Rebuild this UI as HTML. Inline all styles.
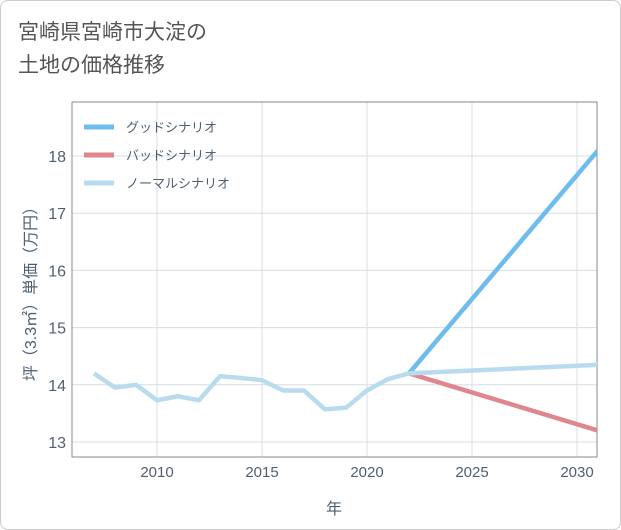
<!DOCTYPE html>
<html><head><meta charset="utf-8">
<style>
body{margin:0;background:#fff;font-family:"Liberation Sans","Noto Sans CJK JP",sans-serif;}
#card{position:absolute;left:0;top:0;width:619px;height:528px;border:1px solid #ccc;border-radius:8px;background:#fff;}
#title{position:absolute;left:18px;top:16px;font-size:21px;line-height:33px;color:#555;}
</style></head><body>
<div id="card"></div>
<div id="title">宮崎県宮崎市大淀の<br>土地の価格推移</div>
<svg id="chart" width="621" height="530" style="position:absolute;left:0;top:0"></svg>
<script>
const years=[2007,2008,2009,2010,2011,2012,2013,2014,2015,2016,2017,2018,2019,2020,2021,2022];
const normalVals=[14.2,13.95,14.0,13.73,13.8,13.73,14.15,14.12,14.08,13.9,13.9,13.57,13.6,13.9,14.1,14.2];
const projYears=[2022,2031];
const goodVals=[14.2,18.1];
const badVals=[14.2,13.2];
const normalProj=[14.2,14.35];
const xTicks=[2010,2015,2020,2025,2030];
const yTicks=[13,14,15,16,17,18];
const legendLabels=["グッドシナリオ","バッドシナリオ","ノーマルシナリオ"];
const colors=["#6cbcf0","#e0868e","#b8dcee"];
const L=72,R=597,T=102,B=457;
const x=v=>157+(v-2010)*21;
const y=v=>442-(v-13)*57.2;
const svg=document.getElementById('chart');
const NS='http://www.w3.org/2000/svg';
function mk(t,a){const e=document.createElementNS(NS,t);for(const k in a)e.setAttribute(k,a[k]);svg.appendChild(e);return e;}
const bg=mk('rect',{x:L,y:T,width:R-L,height:B-T,fill:'#fff',stroke:'#888','stroke-width':1});


xTicks.forEach(v=>{
 const g=mk('line',{x1:x(v),x2:x(v),y1:T,y2:B,stroke:'#d8dde3'});
 
 
 const t=mk('text',{x:x(v),y:B+20,'text-anchor':'middle','font-size':15,fill:'#506070'});
 t.textContent=v;
 
 
});
yTicks.forEach(v=>{
 const g=mk('line',{x1:L,x2:R,y1:y(v),y2:y(v),stroke:'#d8dde3'});
 
 
 const t=mk('text',{x:L-6,y:y(v)+6,'text-anchor':'end','font-size':16,fill:'#506070'});
 t.textContent=v;
 
 
});
mk('rect',{x:L,y:T,width:R-L,height:B-T,fill:'none',stroke:'#888','stroke-width':1});
function line(xs,vs,c,name){
 const p=mk('polyline',{points:xs.map((a,i)=>x(a)+','+y(vs[i])).join(' '),fill:'none',stroke:c,'stroke-width':4.5,'stroke-linejoin':'round','clip-path':'url(#clip)'});
 
 
}
const defs=mk('defs',{});const cp=document.createElementNS(NS,'clipPath');cp.setAttribute('id','clip');
const cr=document.createElementNS(NS,'rect');cr.setAttribute('x',L);cr.setAttribute('y',T);cr.setAttribute('width',R-L);cr.setAttribute('height',B-T);cp.appendChild(cr);defs.appendChild(cp);
line(projYears,goodVals,colors[0],'good-scenario-line');
line(projYears,badVals,colors[1],'bad-scenario-line');
line(years,normalVals,colors[2],'normal-history-line');
line(projYears,normalProj,colors[2],'normal-scenario-line');
legendLabels.forEach((s,i)=>{
 const ly=127+i*28;
 const l=mk('line',{x1:84,x2:114,y1:ly,y2:ly,stroke:colors[i],'stroke-width':5});
 
 
 const t=mk('text',{x:126,y:ly+5,'font-size':13,fill:'#506070'});
 t.textContent=s;
 
 
});
const xt=mk('text',{x:334,y:514,'text-anchor':'middle','font-size':16,fill:'#506070'});
xt.textContent='年';


const yt=mk('text',{x:0,y:0,'text-anchor':'middle','font-size':16,fill:'#506070',transform:'translate(36,290) rotate(-90)'});
yt.textContent='坪（3.3㎡）単価（万円）';


</script>
</body></html>
